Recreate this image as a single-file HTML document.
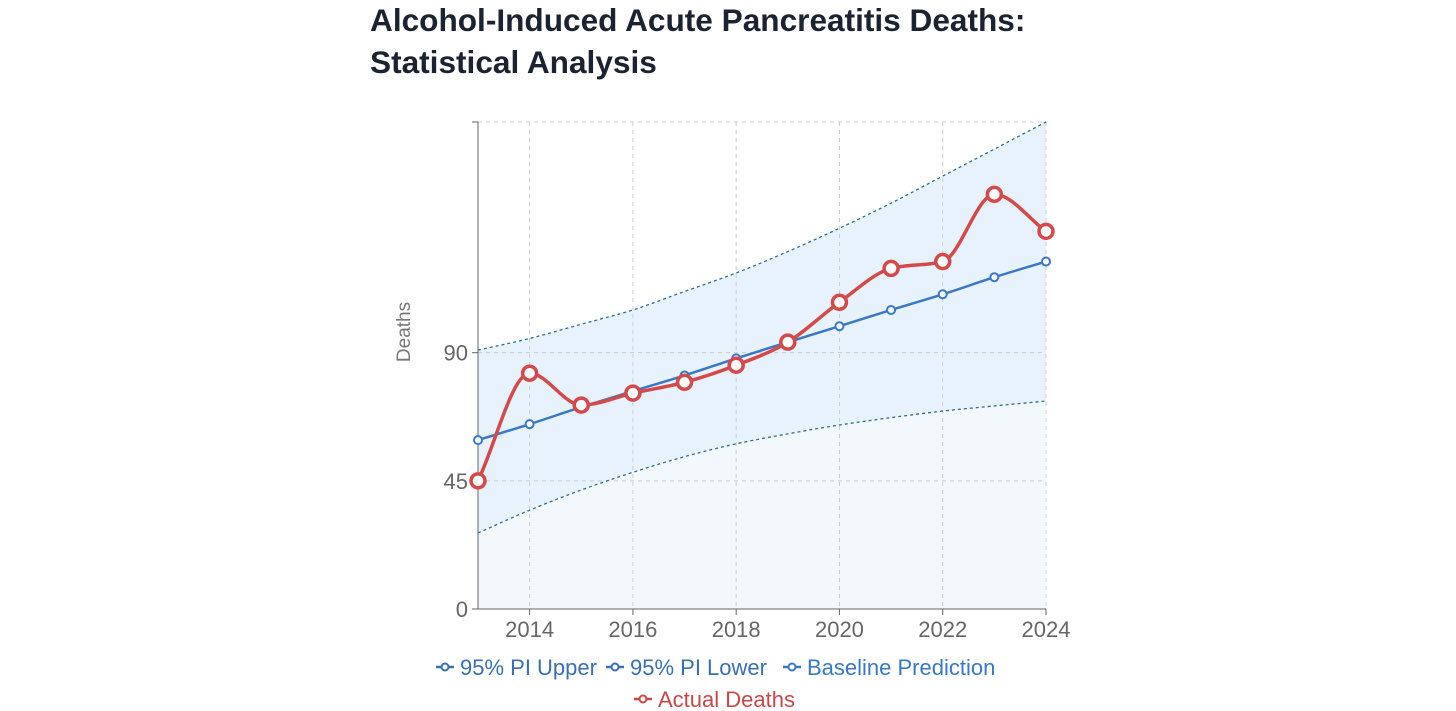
<!DOCTYPE html>
<html><head><meta charset="utf-8">
<style>
body{margin:0;background:#fff;width:1456px;height:711px;overflow:hidden;font-family:"Liberation Sans",sans-serif;}
h1{position:absolute;left:370px;top:-1px;margin:0;font-size:31.6px;line-height:42px;font-weight:bold;color:#1c2330}
</style></head><body>
<h1>Alcohol-Induced Acute Pancreatitis Deaths:<br>Statistical Analysis</h1>
<svg id="c" width="1456" height="711" style="position:absolute;left:0;top:0"></svg>
<script>
const years=[2013,2014,2015,2016,2017,2018,2019,2020,2021,2022,2023,2024];
const actual=[45,82.8,71.6,75.8,79.6,85.6,93.7,107.7,119.6,122,145.6,132.6];
const baseline=[59.3,64.9,70.9,76.5,82,88,93.7,99.3,105,110.5,116.5,122];
const upper=[90.9,95,100,105,111.5,118,125.5,133.7,142.5,152,161.5,171];
const lower=[26.7,34.7,41.8,48,53.5,58,61.5,64.6,67.2,69.5,71.3,73];
const yTicks=[0,45,90];
const xTicks=[2014,2016,2018,2020,2022,2024];
const X0=478,X1=1046,Y0=609,Y1=122,YMAX=171;
const sx=v=>X0+(v-2013)/(2024-2013)*(X1-X0);
const sy=v=>Y0-v/YMAX*(Y0-Y1);
const svg=document.getElementById('c');const NS='http://www.w3.org/2000/svg';
function mk(t,a,p){const e=document.createElementNS(NS,t);for(const k in a)e.setAttribute(k,a[k]);(p||svg).appendChild(e);return e;}
function mono(pts){const n=pts.length;const d=[],m=[];for(let i=0;i<n-1;i++)d.push((pts[i+1][1]-pts[i][1])/(pts[i+1][0]-pts[i][0]));
for(let i=0;i<n;i++){if(i==0)m.push(d[0]);else if(i==n-1)m.push(d[n-2]);else{if(d[i-1]*d[i]<=0)m.push(0);else{const h0=pts[i][0]-pts[i-1][0],h1=pts[i+1][0]-pts[i][0];const p=(d[i-1]*h1+d[i]*h0)/(h0+h1);m.push((Math.sign(d[i-1])+Math.sign(d[i]))*Math.min(Math.abs(d[i-1]),Math.abs(d[i]),0.5*Math.abs(p)));}}}
let s='M'+pts[0][0]+','+pts[0][1];for(let i=0;i<n-1;i++){const h=(pts[i+1][0]-pts[i][0])/3;s+=`C${pts[i][0]+h},${pts[i][1]+m[i]*h} ${pts[i+1][0]-h},${pts[i+1][1]-m[i+1]*h} ${pts[i+1][0]},${pts[i+1][1]}`;}return s;}
const P=a=>years.map((y,i)=>[sx(y),sy(a[i])]);
let a=mk('path',{d:mono(P(upper))+`L${X1},${Y0}L${X0},${Y0}Z`,fill:'#e8f2fd'});

a=mk('path',{d:mono(P(lower))+`L${X1},${Y0}L${X0},${Y0}Z`,fill:'#f3f8fd'});

for(const t of xTicks.concat([2013])){const g=mk('line',{x1:sx(t),x2:sx(t),y1:Y1,y2:Y0,stroke:'#ccc','stroke-dasharray':'4 4'});}
for(const t of yTicks.concat([YMAX])){const g=mk('line',{x1:X0,x2:X1,y1:sy(t),y2:sy(t),stroke:'#ccc','stroke-dasharray':'4 4'});}
mk('line',{x1:X0,x2:X0,y1:Y1,y2:Y0,stroke:'#666'});mk('line',{x1:X0,x2:X1,y1:Y0,y2:Y0,stroke:'#666'});
mk('line',{x1:X0-6,x2:X0,y1:Y1,y2:Y1,stroke:'#666'});
for(const t of yTicks){mk('line',{x1:X0-6,x2:X0,y1:sy(t),y2:sy(t),stroke:'#666'});const e=mk('text',{x:X0-10,y:sy(t)+8,'text-anchor':'end','font-size':'22',fill:'#666'});e.textContent=t;}
for(const t of xTicks){mk('line',{x1:sx(t),x2:sx(t),y1:Y0,y2:Y0+6,stroke:'#666'});const e=mk('text',{x:sx(t),y:Y0+28,'text-anchor':'middle','font-size':'22',fill:'#666'});e.textContent=t;}
let yt=mk('text',{x:0,y:0,transform:'translate(410,332) rotate(-90)','text-anchor':'middle','font-size':'19',fill:'#777'});yt.textContent='Deaths';

let l=mk('path',{d:mono(P(upper)),fill:'none',stroke:'#2f6f90','stroke-width':1.3,'stroke-dasharray':'3 3'});
l=mk('path',{d:mono(P(lower)),fill:'none',stroke:'#2f6f90','stroke-width':1.3,'stroke-dasharray':'3 3'});
l=mk('path',{d:mono(P(baseline)),fill:'none',stroke:'#3a78c6','stroke-width':2.5});
P(baseline).forEach(p=>{const c=mk('circle',{cx:p[0],cy:p[1],r:4,fill:'#fff',stroke:'#3a78c6','stroke-width':2});});
l=mk('path',{d:mono(P(actual)),fill:'none',stroke:'#d44a4a','stroke-width':3.5});
P(actual).forEach(p=>{const c=mk('circle',{cx:p[0],cy:p[1],r:7,fill:'#fff',stroke:'#d44a4a','stroke-width':3.5});});
const leg=[['95% PI Upper',436,667,'#3a6fb0'],['95% PI Lower',606,667,'#3a6fb0'],['Baseline Prediction',783,667,'#3a78c6'],['Actual Deaths',634,699,'#c84848']];
leg.forEach(([t,x,y,c])=>{const g=mk('g',{});
mk('line',{x1:x,x2:x+18,y1:y,y2:y,stroke:c,'stroke-width':2.5},g);mk('circle',{cx:x+9,cy:y,r:3.5,fill:'#fff',stroke:c,'stroke-width':2},g);
const e=mk('text',{x:x+24,y:y+8,'font-size':'22',fill:c},g);e.textContent=t;});
</script>
</body></html>
